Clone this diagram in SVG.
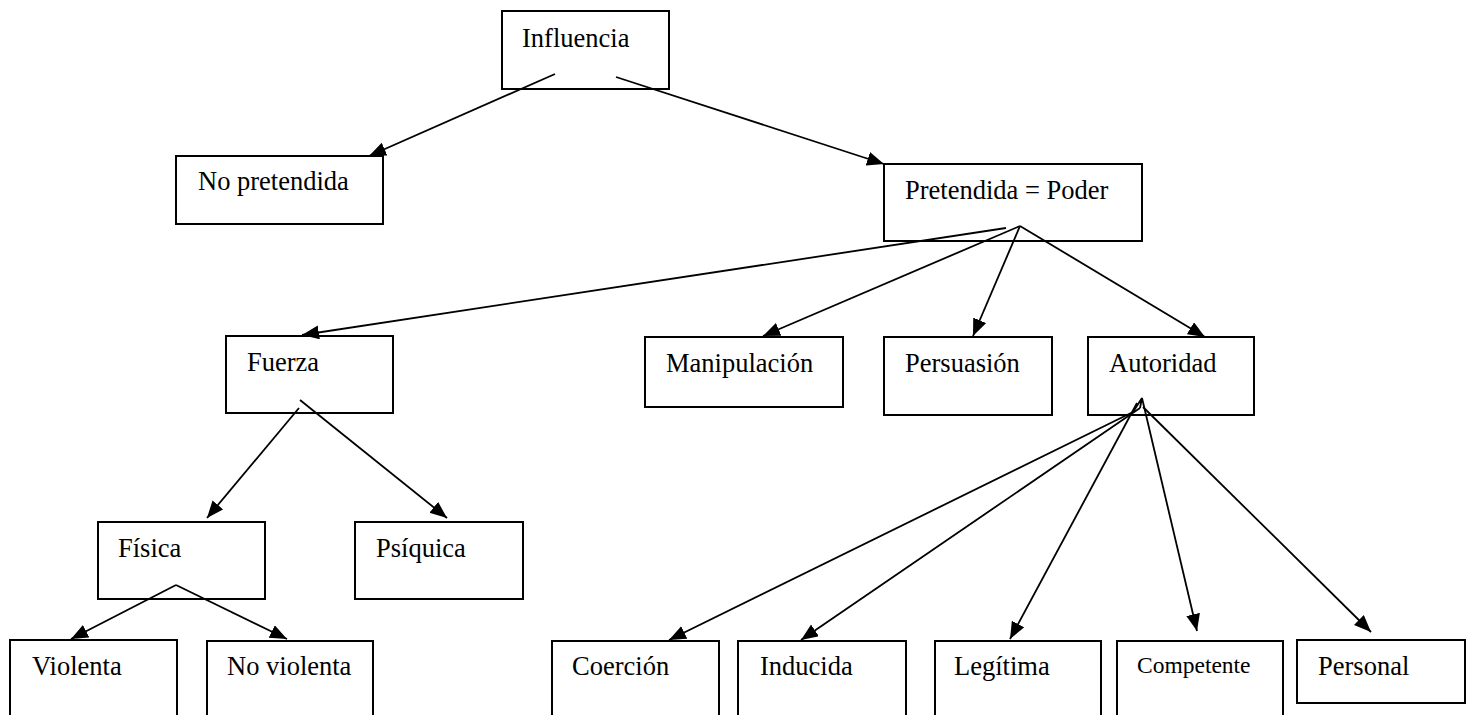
<svg xmlns="http://www.w3.org/2000/svg" width="1467" height="715" viewBox="0 0 1467 715">
  <style>
    .box { fill: #fff; stroke: #000; stroke-width: 2; }
    .lbl { font-family: "Liberation Serif", "Times New Roman", Times, Tinos, "DejaVu Serif", "Noto Serif", serif; font-size: 26.5px; fill: #000; }
    .sm { font-size: 23.5px; }
    .edge { fill: none; stroke: #000; stroke-width: 1.8; marker-end: url(#arrow); }
    .plain { fill: none; stroke: #000; stroke-width: 1.8; }
  </style>
  <defs>
    <marker id="arrow" markerUnits="userSpaceOnUse" markerWidth="18" markerHeight="15" refX="17" refY="7" orient="auto">
      <path d="M0,0 L17,7 L0,14 z" fill="#000"/>
    </marker>
  </defs>
  <rect width="1467" height="715" fill="#fff"/>

  <!-- nodes -->
  <g id="influencia"><rect class="box" x="502" y="11" width="167" height="78"/><text class="lbl" x="522" y="47">Influencia</text></g>
  <g id="no-pretendida"><rect class="box" x="176" y="156" width="207" height="68"/><text class="lbl" x="198" y="190">No pretendida</text></g>
  <g id="pretendida"><rect class="box" x="884" y="164" width="258" height="77"/><text class="lbl" x="905" y="199">Pretendida = Poder</text></g>
  <g id="fuerza"><rect class="box" x="226" y="336" width="167" height="77"/><text class="lbl" x="247" y="371">Fuerza</text></g>
  <g id="manipulacion"><rect class="box" x="645" y="337" width="198" height="70"/><text class="lbl" x="666" y="372">Manipulación</text></g>
  <g id="persuasion"><rect class="box" x="884" y="337" width="168" height="78"/><text class="lbl" x="905" y="372">Persuasión</text></g>
  <g id="autoridad"><rect class="box" x="1088" y="337" width="166" height="78"/><text class="lbl" x="1109" y="372">Autoridad</text></g>
  <g id="fisica"><rect class="box" x="98" y="522" width="167" height="77"/><text class="lbl" x="118" y="557">Física</text></g>
  <g id="psiquica"><rect class="box" x="355" y="522" width="168" height="77"/><text class="lbl" x="376" y="557">Psíquica</text></g>
  <g id="violenta"><rect class="box" x="10" y="640" width="167" height="90"/><text class="lbl" x="32" y="675">Violenta</text></g>
  <g id="no-violenta"><rect class="box" x="207" y="641" width="166" height="90"/><text class="lbl" x="227" y="675">No violenta</text></g>
  <g id="coercion"><rect class="box" x="552" y="641" width="167" height="90"/><text class="lbl" x="572" y="675">Coerción</text></g>
  <g id="inducida"><rect class="box" x="738" y="641" width="168" height="90"/><text class="lbl" x="760" y="675">Inducida</text></g>
  <g id="legitima"><rect class="box" x="935" y="641" width="166" height="90"/><text class="lbl" x="954" y="675">Legítima</text></g>
  <g id="competente"><rect class="box" x="1117" y="641" width="166" height="90"/><text class="lbl sm" x="1137" y="673">Competente</text></g>
  <g id="personal"><rect class="box" x="1297" y="640" width="168" height="63"/><text class="lbl" x="1318" y="675">Personal</text></g>

  <!-- connectors -->
  <g id="connectors">
    <line class="edge" x1="555" y1="74" x2="369" y2="156"/>
    <line class="edge" x1="616" y1="77" x2="884" y2="164"/>
    <line class="edge" x1="1006" y1="228" x2="302" y2="335"/>
    <line class="edge" x1="1020" y1="226" x2="763" y2="336"/>
    <line class="edge" x1="1020" y1="226" x2="973" y2="336"/>
    <line class="edge" x1="1020" y1="226" x2="1205" y2="337"/>
    <line class="edge" x1="299" y1="408" x2="207" y2="518"/>
    <line class="edge" x1="300" y1="400" x2="447" y2="518"/>
    <line class="edge" x1="176" y1="585" x2="71" y2="639"/>
    <line class="edge" x1="176" y1="585" x2="287" y2="639"/>
    <polyline class="plain" points="1133,412 1142,398 1140,408"/>
    <line class="edge" x1="1133" y1="412" x2="669" y2="640"/>
    <line class="edge" x1="1140" y1="408" x2="801" y2="640"/>
    <line class="edge" x1="1137" y1="403" x2="1010" y2="639"/>
    <line class="edge" x1="1142" y1="398" x2="1197" y2="631"/>
    <line class="edge" x1="1143" y1="407" x2="1371" y2="632"/>
  </g>
</svg>
